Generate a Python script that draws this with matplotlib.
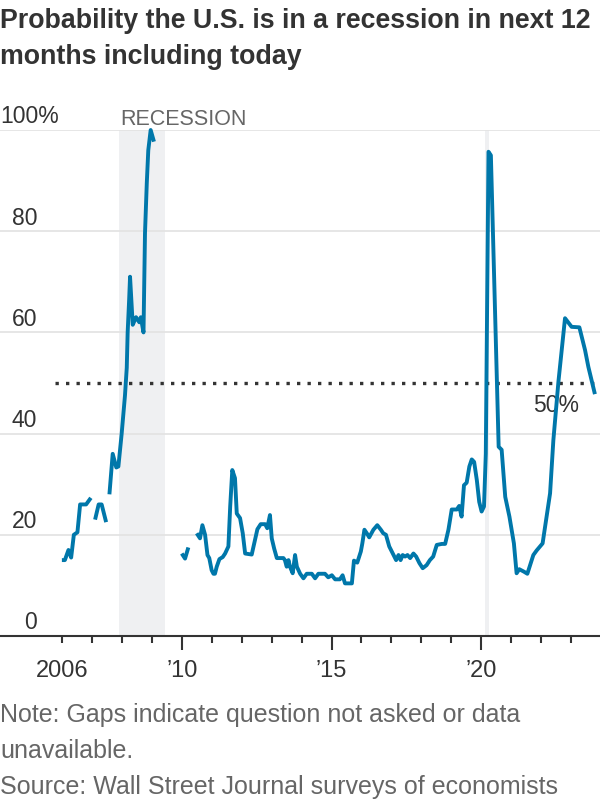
import numpy as np
import matplotlib
matplotlib.use("Agg")
import matplotlib.pyplot as plt
import matplotlib.transforms as mtransforms

plt.rcParams['font.family'] = ['Liberation Sans Narrow', 'Liberation Sans', 'DejaVu Sans']

# survey dates (decimal years) and probability (%); nan marks a gap in the survey
years = [2005.98, 2006.08, 2006.20, 2006.29, 2006.38, 2006.50, 2006.59, 2006.79, 2006.95, np.nan,
         2007.09, 2007.21, 2007.31, 2007.46, np.nan,
         2007.57, 2007.68, 2007.80, 2007.87, 2007.98, 2008.04, 2008.09, 2008.15, 2008.18, 2008.23,
         2008.26, 2008.35, 2008.46, 2008.57, 2008.62, 2008.71, 2008.76, 2008.82, 2008.87, 2008.95,
         2009.06, np.nan,
         2009.99, 2010.10, 2010.21, np.nan,
         2010.49, 2010.60, 2010.68, 2010.77, 2010.85, 2010.91, 2010.99, 2011.05, 2011.10, 2011.16,
         2011.25, 2011.36, 2011.44, 2011.55, 2011.61, 2011.68, 2011.77, 2011.83, 2011.94, 2012.03,
         2012.11, 2012.33, 2012.44, 2012.52, 2012.63, 2012.78, 2012.85, 2012.94, 2013.00, 2013.08,
         2013.17, 2013.39, 2013.44, 2013.50, 2013.56, 2013.61, 2013.70, 2013.78, 2013.84, 2013.95,
         2014.06, 2014.17, 2014.34, 2014.45, 2014.56, 2014.78, 2014.89, 2015.01, 2015.12, 2015.28,
         2015.37, 2015.45, 2015.68, 2015.75, 2015.86, 2015.98, 2016.03, 2016.10, 2016.18, 2016.26,
         2016.40, 2016.53, 2016.65, 2016.73, 2016.82, 2016.93, 2017.05, 2017.16, 2017.24, 2017.31,
         2017.38, 2017.46, 2017.54, 2017.63, 2017.74, 2017.83, 2017.94, 2018.05, 2018.18, 2018.29,
         2018.40, 2018.52, 2018.69, 2018.80, 2018.91, 2019.02, 2019.19, 2019.27, 2019.35, 2019.43,
         2019.52, 2019.61, 2019.69, 2019.77, 2019.86, 2019.94, 2020.02, 2020.10, 2020.16, 2020.25,
         2020.33, 2020.59, 2020.69, 2020.81, 2020.95, 2021.10, 2021.19, 2021.28, 2021.44, 2021.55,
         2021.75, 2021.86, 2022.06, 2022.17, 2022.31, 2022.42, 2022.59, 2022.81, 2023.03, 2023.29,
         2023.48, 2023.59, 2023.81]
prob = [15, 15, 17, 15.5, 20, 20.5, 26, 26, 27.3, np.nan,
        23, 26, 26, 22.5, np.nan,
        28, 36, 33.3, 33.5, 40, 44, 47.5, 53, 60, 66.5,
        71, 61.5, 63, 62, 63, 60, 79.6, 89.5, 96, 100,
        97.7, np.nan,
        16.3, 15.3, 17.5, np.nan,
        20.3, 19.3, 21.9, 20, 16, 15.4, 13, 12.3, 12.3, 13.7,
        15.2, 15.6, 16.3, 17.7, 25.6, 32.8, 31.2, 24.2, 23.3, 20.3,
        16.3, 16.1, 19, 21.1, 22.1, 22.1, 21.3, 23.9, 19.3, 17.3,
        15.4, 15.4, 15, 13.7, 15, 13.7, 12.4, 16, 13.7, 12.3,
        11.4, 12.3, 12.3, 11.4, 12.3, 12.3, 11.6, 12, 11.2, 11.2,
        12, 10.4, 10.4, 14.9, 14.5, 16.7, 18.3, 21, 20.3, 19.5,
        21, 21.9, 21, 20.3, 20, 17.7, 16.3, 15, 16, 15,
        16, 15.7, 16, 15.4, 16.3, 15.7, 14.4, 13.4, 14, 15,
        15.7, 18, 18.2, 18.2, 21, 25, 25, 25.7, 23.6, 29.8,
        30.3, 33.5, 34.9, 34.4, 30.8, 26.5, 24.6, 25.6, 36, 95.7,
        95, 37.4, 36.8, 27.5, 23.6, 18.3, 12.4, 13.2, 12.7, 12.3,
        16, 16.9, 18.3, 22.6, 28.2, 38.7, 50.3, 62.8, 61.1, 61,
        56.5, 53.2, 47.8]

recessions = [(2007.9, 2009.42), (2020.14, 2020.26)]
y_ticks = [0, 20, 40, 60, 80, 100]
y_labels = ['0', '20', '40', '60', '80', '100%']
year_ticks = list(range(2006, 2024))
major_years = [2010, 2015, 2020]
major_labels = ['\u201910', '\u201915', '\u201920']

dark = '#333333'
grey = '#666666'
blue = '#0077aa'
lab_size = 16.5

fig = plt.figure(figsize=(6, 8), dpi=100)
ax = fig.add_axes([0, 0.205, 1, 0.6325])
ax.set_xlim(2003.91, 2023.98)
ax.set_ylim(0, 100)

for start, end in recessions:
    ax.axvspan(start, end, color='#eff0f2', lw=0, zorder=0)

ax.set_yticks(y_ticks)
ax.yaxis.grid(True, color='#e2e2e2', lw=1.2, zorder=1)
ax.tick_params(axis='y', length=0, labelleft=False)

# y labels sit above the gridlines, WSJ style
trans = mtransforms.blended_transform_factory(ax.transAxes, ax.transData)
for v, lab in zip(y_ticks, y_labels):
    if lab.endswith('%'):
        ax.text(0, v + 1.3, lab, transform=trans, ha='left', va='baseline',
                fontsize=lab_size, color=dark, clip_on=False)
    else:
        ax.text(0.0617, v + 1.3, lab, transform=trans, ha='right', va='baseline',
                fontsize=lab_size, color=dark)

ax.set_xticks(major_years)
ax.set_xticklabels(major_labels)
ax.set_xticks([y for y in year_ticks if y not in major_years], minor=True)
ax.set_xticklabels(['2006' if y == 2006 else '' for y in year_ticks if y not in major_years], minor=True)
ax.tick_params(axis='x', which='major', length=10, width=1.5, color=dark, labelsize=17,
               labelcolor=dark, pad=7)
ax.tick_params(axis='x', which='minor', length=5, width=1.5, color=dark, labelsize=17,
               labelcolor=dark, pad=12)

for s in ['top', 'left', 'right']:
    ax.spines[s].set_visible(False)
ax.spines['bottom'].set_color(dark)
ax.spines['bottom'].set_linewidth(1.5)

ax.hlines(50, 2005.75, 2023.98, colors=dark, lw=2.4, linestyles=(0, (1, 2.15)), zorder=2)
ax.text(2023.28, 44.3, '50%', ha='right', va='baseline', fontsize=lab_size, color=dark)

ax.plot(years, prob, color=blue, lw=2.8, solid_joinstyle='round', solid_capstyle='butt',
        zorder=3, clip_on=False)

ax.text(2007.93, 101, 'RECESSION', ha='left', va='baseline', fontsize=15.5, color=grey,
        clip_on=False)

fig.text(0, 1 - 27.5 / 800, 'Probability the U.S. is in a recession in next 12',
         fontsize=19.3, fontweight='bold', color=dark, va='baseline')
fig.text(0, 1 - 63.5 / 800, 'months including today',
         fontsize=19.3, fontweight='bold', color=dark, va='baseline')

fig.text(0, 1 - 721.7 / 800, 'Note: Gaps indicate question not asked or data',
         fontsize=18, color=grey, va='baseline')
fig.text(0, 1 - 758.3 / 800, 'unavailable.', fontsize=18, color=grey, va='baseline')
fig.text(0, 1 - 794 / 800, 'Source: Wall Street Journal surveys of economists',
         fontsize=18, color=grey, va='baseline')

fig.savefig('out.png', dpi=100)
